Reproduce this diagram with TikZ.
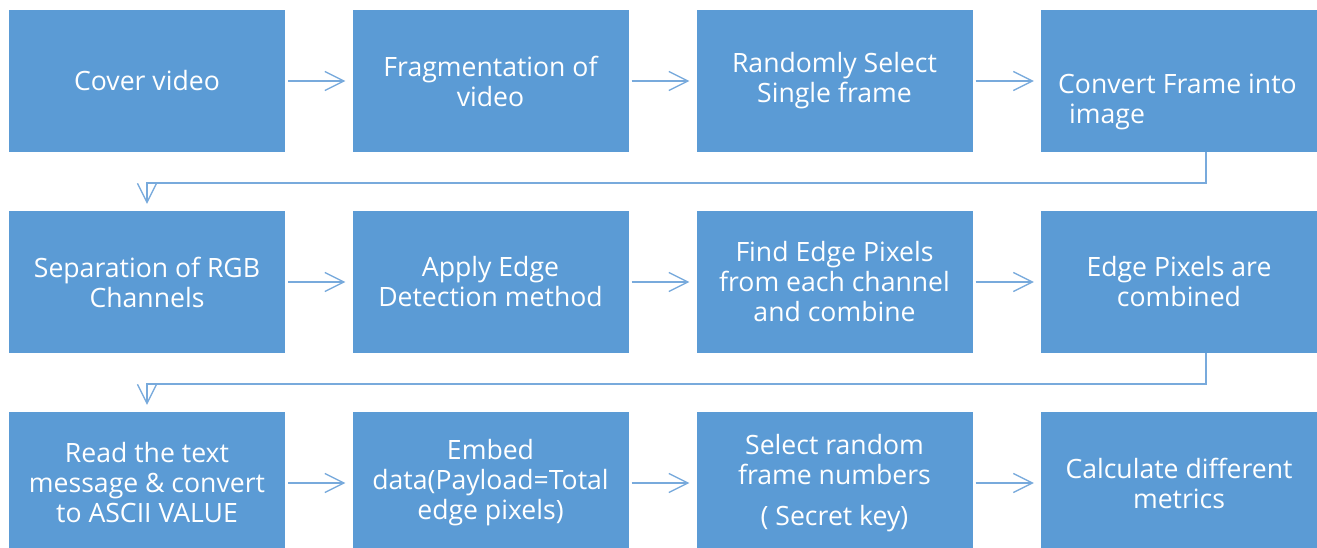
\documentclass[tikz,border=0pt]{standalone}
\usepackage{fontspec}
\setmainfont{Open Sans}
\usetikzlibrary{arrows.meta}
\definecolor{boxblue}{RGB}{91,155,213}
\definecolor{lineblue}{RGB}{120,170,220}
\tikzset{
  box/.style={rectangle, fill=boxblue, minimum width=276pt, minimum height=142pt, inner sep=0pt,
    text=white, align=center, font=\fontsize{26.6}{30}\selectfont},
  txt/.style={inner sep=0pt, text=white, font=\fontsize{26.6}{30}\selectfont},
  arr/.style={draw=lineblue, line width=1.3pt, -{Straight Barb[length=19pt,width=19pt,line width=1.3pt]}},
  harr/.style={arr, shorten <=3pt, shorten >=7pt}
}
\begin{document}
\begin{tikzpicture}[x=1pt,y=-1pt]
\useasboundingbox (0,0) rectangle (1317,548);
% row 1
\node[box] (b1) at (147,81) {Cover video};
\node[box] (b2) at (490.5,81) {Fragmentation of\\video};
\node[box] (b3) at (834.5,81) {Randomly Select\\Single frame};
\node[box] (b4) at (1179,81) {};
\node[txt, align=left, anchor=west] (t4) at (1058,102) {Convert Frame into\\\hspace{11pt}image};
% row 2
\node[box] (b5) at (147,282) {Separation of RGB\\Channels};
\node[box] (b6) at (490.5,282) {Apply Edge\\Detection method};
\node[box] (b7) at (834.5,282) {Find Edge Pixels\\from each channel\\and combine};
\node[box] (b8) at (1179,282) {Edge Pixels are\\combined};
% row 3
\node[box] (b9) at (147,483) {Read the text\\message \& convert\\to ASCII VALUE};
\node[box] (b10) at (490.5,483) {Embed\\data(Payload=Total\\edge pixels)};
\node[box] (b11) at (834.5,483) {Select random\\frame numbers\\[11pt]( Secret key)};
\node[box] (b12) at (1179,483) {Calculate different\\metrics};
% horizontal arrows
\draw[harr] (b1) -- (b2);
\draw[harr] (b2) -- (b3);
\draw[harr] (b3) -- (b4);
\draw[harr] (b5) -- (b6);
\draw[harr] (b6) -- (b7);
\draw[harr] (b7) -- (b8);
\draw[harr] (b9) -- (b10);
\draw[harr] (b10) -- (b11);
\draw[harr] (b11) -- (b12);
% row connectors
\coordinate (c1) at (147,183);
\coordinate (c2) at (147,384);
\draw[arr, shorten >=7pt] ([xshift=27pt]b4.south) -- ([xshift=27pt]b4.south |- c1) -- (c1) -- (b5.north);
\draw[arr, shorten >=7pt] ([xshift=27pt]b8.south) -- ([xshift=27pt]b8.south |- c2) -- (c2) -- (b9.north);
\end{tikzpicture}
\end{document}
